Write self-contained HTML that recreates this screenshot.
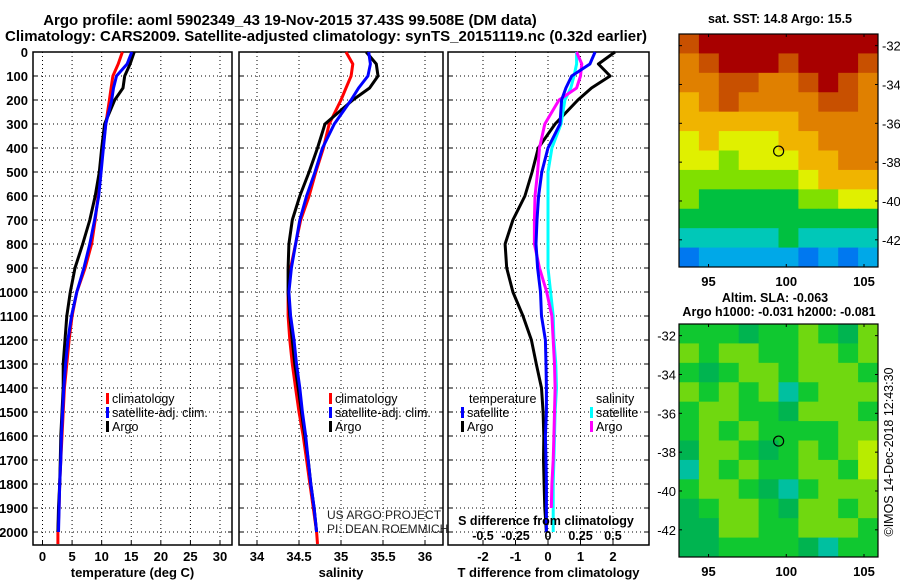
<!DOCTYPE html>
<html><head><meta charset="utf-8">
<style>
html,body{margin:0;padding:0;background:#fff;}
svg text{font-family:"Liberation Sans",Arial,sans-serif;}
.b{font-weight:bold;}
</style></head>
<body>
<svg id="c" width="900" height="580" viewBox="0 0 900 580" xmlns="http://www.w3.org/2000/svg">
<text x="290" y="25" text-anchor="middle" font-size="15" class="b">Argo profile: aoml 5902349_43 19-Nov-2015 37.43S 99.508E (DM data)</text>
<text x="326" y="41" text-anchor="middle" font-size="15" class="b">Climatology: CARS2009. Satellite-adjusted climatology: synTS_20151119.nc (0.32d earlier)</text>
<g id="plots"></g>
</svg>
<script>
const depths=[0,50,100,150,200,300,400,500,600,700,800,900,1000,1100,1200,1300,1400,1500,1600,1700,1800,1900,2000,2050];
const tempClim=[13.5,12.8,11.9,11.6,11.3,10.7,10.2,9.7,9.4,8.9,8.3,7.2,5.8,5.0,4.5,4.1,3.7,3.5,3.3,3.1,2.9,2.8,2.6,2.6];
const tempSat=[15.1,14.3,12.5,12.0,11.7,10.7,10.3,9.9,9.5,8.8,8.0,7.0,5.8,4.9,4.3,3.9,3.6,3.4,3.2,3.1,2.9,2.8,2.7,null];
const tempArgo=[15.5,14.8,13.9,13.6,12.2,10.5,10.0,9.6,8.9,8.0,6.8,5.5,4.7,4.1,3.8,3.5,3.5,3.3,3.1,3.0,2.9,2.7,2.6,null];
const salClim=[35.06,35.14,35.12,35.06,35.0,34.86,34.79,34.70,34.62,34.52,34.46,34.40,34.37,34.37,34.39,34.42,34.46,34.50,34.55,34.59,34.63,34.67,34.71,34.72];
const salSat=[35.33,35.35,35.32,35.21,35.12,34.92,34.78,34.69,34.59,34.51,34.46,34.41,34.38,34.40,34.44,34.47,34.51,34.54,34.58,34.61,34.64,34.68,34.71,null];
const salArgo=[35.3,35.42,35.44,35.34,35.14,34.81,34.72,34.62,34.51,34.42,34.38,34.37,34.37,34.39,34.42,34.45,34.49,34.53,34.57,34.61,34.64,34.68,34.71,null];
const tDiffSat=[1.45,1.29,0.73,0.55,0.42,0.37,0.0,-0.19,-0.29,-0.34,-0.37,-0.32,-0.23,-0.2,-0.08,-0.06,-0.05,-0.05,-0.08,-0.06,-0.05,-0.05,-0.05,null];
const tDiffArgo=[2.06,1.55,1.91,1.34,0.92,0.22,-0.3,-0.49,-0.71,-1.08,-1.32,-1.27,-1.08,-0.77,-0.51,-0.36,-0.2,-0.15,-0.13,-0.14,-0.12,-0.1,-0.05,null];
const sDiffSat=[0.22,0.22,0.20,0.175,0.13,0.10,0.03,0.0,0.0,0.0,0.0,0.0,0.02,0.04,0.045,0.06,0.065,0.055,0.05,0.045,0.04,0.04,0.04,null];
const sDiffArgo=[0.22,0.26,0.25,0.22,0.085,-0.025,-0.065,-0.08,-0.10,-0.105,-0.105,-0.065,-0.01,0.03,0.04,0.05,0.055,0.05,0.045,0.04,0.03,0.025,null,null];
const depthTicks=[0,100,200,300,400,500,600,700,800,900,1000,1100,1200,1300,1400,1500,1600,1700,1800,1900,2000];
const tempTicks=[0,5,10,15,20,25,30];
const salTicks=[34,34.5,35,35.5,36];
const salTickLabels=["34","34.5","35","35.5","36"];
const tdTicks=[-2,-1,0,1,2];
const sdTicks=[-0.5,-0.25,0,0.25,0.5];
const sdTickLabels=["-0.5","-0.25","0","0.25","0.5"];
const lonTicks=[95,100,105];
const latTicks=[-32,-34,-36,-38,-40,-42];
const sstGrid=[
[9,10,10,10,10,10,10,10,10,10],
[8,9,10,10,10,9,10,10,10,9],
[8,8,9,9,8,8,9,10,9,8],
[7,8,9,8,8,8,8,9,9,8],
[7,7,7,7,7,7,8,8,8,8],
[6,7,6,6,6,7,7,8,8,8],
[6,6,5,6,6,6,7,7,8,8],
[5,5,5,5,5,5,6,7,7,7],
[5,4,4,4,4,4,5,5,6,6],
[4,4,4,4,4,4,4,4,4,4],
[3,3,3,3,3,4,3,3,3,3],
[1,2,2,2,2,2,1,2,1,2]];
const slaGrid=[
[2,2,2,1,2,2,3,2,1,3],
[3,2,3,3,2,2,3,3,2,3],
[2,1,2,3,3,2,3,3,3,2],
[3,2,3,2,3,0,2,3,3,3],
[2,3,3,2,2,1,3,3,3,2],
[2,3,2,3,2,2,2,2,3,3],
[1,3,3,2,1,2,3,2,3,4],
[0,3,2,3,2,2,3,3,2,4],
[2,3,3,2,1,0,2,3,3,3],
[1,2,3,3,2,1,3,3,2,3],
[1,1,3,3,2,2,3,3,3,2],
[1,1,2,2,2,2,1,0,2,2]];
const argoPos=[99.508,-37.43];

const sstColors=["#0030c0","#0078f0","#00a8e8","#00c8b8","#00c040","#80e000","#e0f000","#f0b400","#e08000","#c85000","#a80000"];
const slaColors=["#00c0a0","#00b450","#10c830","#70d810","#b8ec00"];
const NS="http://www.w3.org/2000/svg";
const G=document.getElementById('plots');
function el(tag,attrs,parent){const e=document.createElementNS(NS,tag);for(const k in attrs)e.setAttribute(k,attrs[k]);(parent||G).appendChild(e);return e;}
function txt(x,y,s,size,anchor,bold,parent){const t=el('text',{x:x,y:y,'font-size':size,'text-anchor':anchor||'start','font-weight':bold?'bold':'normal'},parent);t.textContent=s;return t;}
const Y0=52,Y1=545;
const yD=d=>Y0+d*0.24;
function scale(v0,v1,p0,p1){return v=>p0+(v-v0)/(v1-v0)*(p1-p0);}

const panels=[
 {name:'temperature-panel',x0:33,x1:232,xs:scale(0,30,42.5,220),ticks:tempTicks,labels:tempTicks.map(String),title:'temperature (deg C)'},
 {name:'salinity-panel',x0:239,x1:443,xs:scale(34,36,257,425),ticks:salTicks,labels:salTickLabels,title:'salinity'},
 {name:'difference-panel',x0:448,x1:649,xs:scale(-2,2,483,613),ticks:tdTicks,labels:tdTicks.map(String),title:'T difference from climatology'}
];
panels.forEach((p,pi)=>{
 const g=el('g',{});
 
 
 depthTicks.forEach(d=>{
  if(d>0){const l=el('line',{x1:p.x0,x2:p.x1,y1:yD(d),y2:yD(d),stroke:'#000','stroke-width':1,'stroke-dasharray':'1,3'},g);
  }
  el('line',{x1:p.x0,x2:p.x0+4,y1:yD(d),y2:yD(d),stroke:'#000','stroke-width':1},g);
  el('line',{x1:p.x1,x2:p.x1-4,y1:yD(d),y2:yD(d),stroke:'#000','stroke-width':1},g);
 });
 p.ticks.forEach((t,i)=>{
  const x=p.xs(t);
  const l=el('line',{x1:x,x2:x,y1:Y0,y2:Y1,stroke:'#000','stroke-width':1,'stroke-dasharray':'1,3'},g);
  
  el('line',{x1:x,x2:x,y1:Y1,y2:Y1-4,stroke:'#000'},g);
  const tl=txt(x,561,p.labels[i],13,'middle',true,g);
  
 });
 const at=txt((p.x0+p.x1)/2,577,p.title,13,'middle',true,g);
 
 const fr=el('rect',{x:p.x0,y:Y0,width:p.x1-p.x0,height:Y1-Y0,fill:'none',stroke:'#000','stroke-width':1.5},g);
 
});
depthTicks.forEach(d=>{
 const t=txt(28,yD(d)+5,String(d),13,'end',true);
 
});
function profile(vals,xs,color,name){
 let pts=[];
 vals.forEach((v,i)=>{if(v!==null)pts.push(xs(v).toFixed(1)+','+yD(depths[i]).toFixed(1));});
 const pl=el('polyline',{points:pts.join(' '),fill:'none',stroke:color,'stroke-width':3,'stroke-linejoin':'round'});
 
 
}
const xsT=panels[0].xs,xsS=panels[1].xs,xsTD=panels[2].xs,xsSD=scale(-0.5,0.5,483,613);
profile(tempClim,xsT,'#ff0000','temp-climatology-line');
profile(tempArgo,xsT,'#000000','temp-argo-line');
profile(tempSat,xsT,'#0000ff','temp-satellite-line');
profile(salClim,xsS,'#ff0000','sal-climatology-line');
profile(salArgo,xsS,'#000000','sal-argo-line');
profile(salSat,xsS,'#0000ff','sal-satellite-line');
profile(tDiffArgo,xsTD,'#000000','tdiff-argo-line');
profile(sDiffSat,xsSD,'#00ffff','sdiff-satellite-line');
profile(sDiffArgo,xsSD,'#ff00ff','sdiff-argo-line');
profile(tDiffSat,xsTD,'#0000ff','tdiff-satellite-line');

function legendItem(x,y,color,label,name){
 const g=el('g',{});
 
 
 el('rect',{x:x,y:y-10,width:3,height:11,fill:color},g);
 txt(x+6,y,label,12.5,'start',false,g);
}
legendItem(106,403,'#ff0000','climatology','legend-temp-climatology');
legendItem(106,417,'#0000ff','satellite-adj. clim.','legend-temp-satellite');
legendItem(106,431,'#000000','Argo','legend-temp-argo');
legendItem(329,403,'#ff0000','climatology','legend-sal-climatology');
legendItem(329,417,'#0000ff','satellite-adj. clim.','legend-sal-satellite');
legendItem(329,431,'#000000','Argo','legend-sal-argo');
let t=txt(469,403,'temperature',12.5,'start',false);
legendItem(461,417,'#0000ff','satellite','legend-tdiff-satellite');
legendItem(461,431,'#000000','Argo','legend-tdiff-argo');
t=txt(596,403,'salinity',12.5,'start',false);
legendItem(590,417,'#00ffff','satellite','legend-sdiff-satellite');
legendItem(590,431,'#ff00ff','Argo','legend-sdiff-argo');
t=txt(546,525,'S difference from climatology',12.5,'middle',true);
sdTicks.forEach((v,i)=>{const s=txt(xsSD(v),540,sdTickLabels[i],12.5,'middle',true);});
t=txt(327,519,'US ARGO PROJECT',12,'start',false);t.setAttribute('fill','#222');
t=txt(327,533,'PI: DEAN ROEMMICH',12,'start',false);t.setAttribute('fill','#222');

function map(y0,grid,colors,name,labelsLeft){
 const x0=679,x1=878,y1=y0+233;
 const lonS=scale(93.1,105.9,x0,x1),latS=scale(-31.4,-43.4,y0,y1);
 const g=el('g',{});
 
 
 const rows=grid.length,cols=grid[0].length,cw=(x1-x0)/cols,ch=(y1-y0)/rows;
 grid.forEach((r,ri)=>r.forEach((v,ci)=>{
  const c=el('rect',{x:x0+ci*cw,y:y0+ri*ch,width:cw+0.5,height:ch+0.5,fill:colors[v]},g);
  
  
 }));
 el('rect',{x:x0,y:y0,width:x1-x0,height:y1-y0,fill:'none',stroke:'#000','stroke-width':1.2},g);
 lonTicks.forEach(l=>{const x=lonS(l);el('line',{x1:x,x2:x,y1:y0,y2:y0+3,stroke:'#000'},g);el('line',{x1:x,x2:x,y1:y1,y2:y1-3,stroke:'#000'},g);
  const s=txt(x,y1+19,String(l),13,'middle',true,g);});
 latTicks.forEach(l=>{const y=latS(l);el('line',{x1:x1,x2:x1-3,y1:y,y2:y,stroke:'#000'},g);el('line',{x1:x0,x2:x0+3,y1:y,y2:y,stroke:'#000'},g);
  const s=labelsLeft?txt(676,y+5,String(l),13,'end',false,g):txt(882,y+5,String(l),13,'start',false,g);
  });
 const c=el('circle',{cx:lonS(argoPos[0]),cy:latS(argoPos[1]),r:5,fill:'none',stroke:'#000','stroke-width':1.2},g);
 
}
map(34,sstGrid,sstColors,'sst-map',false);
map(324,slaGrid,slaColors,'sla-map',true);
t=txt(780,23,'sat. SST: 14.8 Argo: 15.5',12.5,'middle',true);
t=txt(775,302,'Altim. SLA: -0.063',12.5,'middle',true);
t=txt(779,316,'Argo h1000: -0.031 h2000: -0.081',12.5,'middle',true);
t=txt(0,0,'©IMOS 14-Dec-2018 12:43:30',12.5,'middle',false);t.setAttribute('transform','translate(893,452) rotate(-90)');
</script>
</body></html>
